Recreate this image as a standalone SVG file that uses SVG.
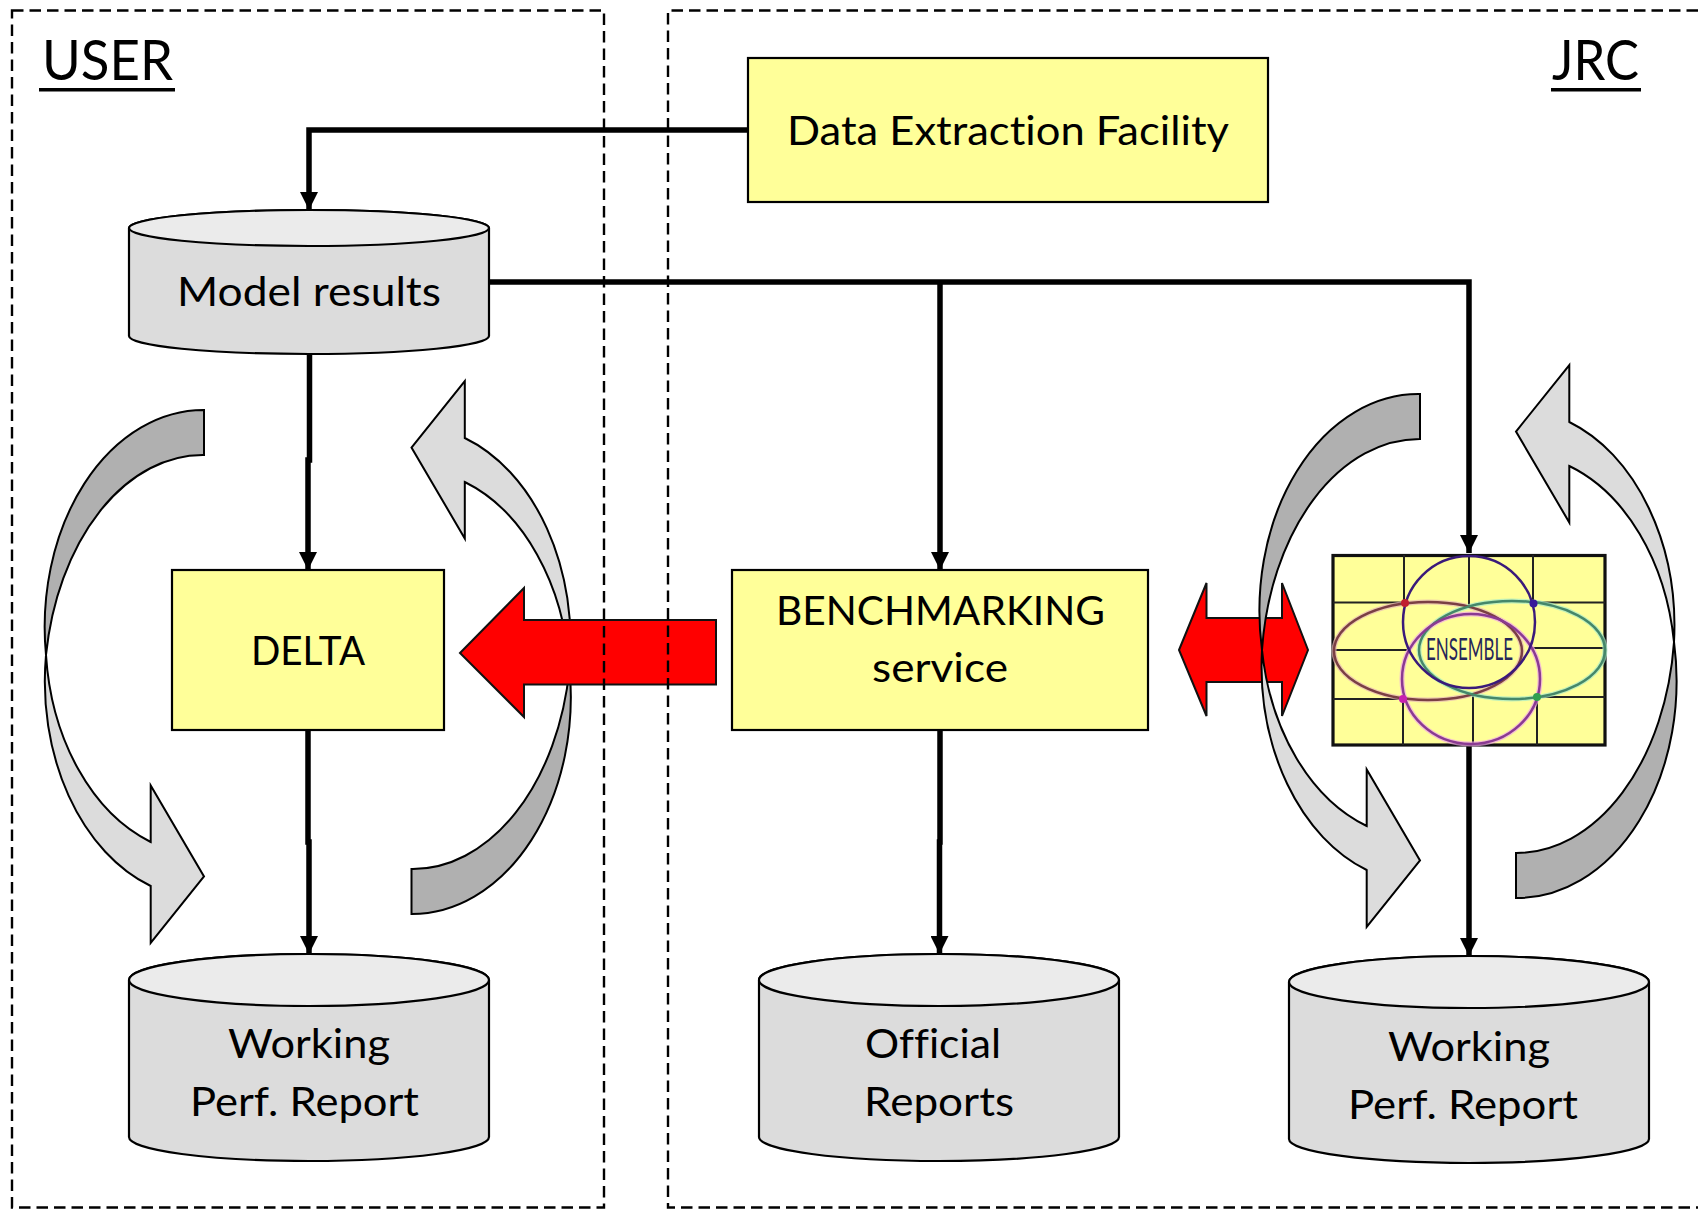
<svg xmlns="http://www.w3.org/2000/svg" xmlns:xlink="http://www.w3.org/1999/xlink" width="1698" height="1210" viewBox="0 0 1698 1210">
<style>
text{font-family:Lato,"Liberation Sans",sans-serif;font-size:40px;fill:#000;font-variant-ligatures:none}
.box{fill:#ffff99;stroke:#000;stroke-width:2.2}
.cyl{fill:#dcdcdc;stroke:#000;stroke-width:2.2}
.cap{fill:#ebebeb;stroke:#000;stroke-width:2.2}
.dash{fill:none;stroke:#000;stroke-width:2.4;stroke-dasharray:11.5 6}
.red{fill:#ff0000;stroke:#111;stroke-width:2}
.dark{fill:#b0b0b0;stroke:#000;stroke-width:2}
.light{fill:#dcdcdc;stroke:#000;stroke-width:2}
.conn{fill:none;stroke:#000;stroke-width:5.5}
.grid{stroke:#222;stroke-width:2}
</style>
<defs>
<marker id="ah" markerUnits="userSpaceOnUse" markerWidth="18" markerHeight="18" refX="18" refY="9" orient="auto"><path d="M0 0L18 9L0 18Z" fill="#000"/></marker>
<g id="curve">
<path class="dark" d="M1420 394V439A158.500 235 0 0 0 1262 650A159 217 0 0 1 1420 394Z"/>
<path class="light" d="M1262 650A159 219 0 0 0 1366.700 826V769.500L1420 860.500L1366.700 927V870A159 217 0 0 1 1262 650Z"/>
</g>
<g id="curve-user">
<path class="dark" d="M1420 394V439A158.500 235 0 0 0 1262 639A159 217 0 0 1 1420 394Z"/>
<path class="light" d="M1262 639A159 219 0 0 0 1366.700 826V769.500L1420 860.500L1366.700 927V870A159 217 0 0 1 1262 639Z"/>
</g>
</defs>
<g id="loop-user-left"><use xlink:href="#curve-user" href="#curve-user" transform="translate(-1216 16)"/></g>
<g id="loop-user-right"><use xlink:href="#curve-user" href="#curve-user" transform="translate(-1104.500 16) rotate(180 1468 646)"/></g>
<g id="arrow-benchmark-delta"><path class="red" d="M460 653L524 588V620H716V684.500H524V717Z"/></g>
<g id="arrow-benchmark-ensemble"><path class="red" d="M1179 650L1206.500 583V618H1282V583L1308 650L1282 716V682H1206.500V716Z"/></g>
<g id="loop-jrc-left"><use xlink:href="#curve" href="#curve"/></g>
<g id="loop-jrc-right"><use xlink:href="#curve" href="#curve" transform="rotate(180 1468 646)"/></g>
<g id="user-area"><rect class="dash" x="12" y="10.500" width="592" height="1197"/><text x="42" y="80" style="font-size:56px" textLength="131" lengthAdjust="spacingAndGlyphs">USER</text><rect x="39" y="88" width="136" height="3.500"/></g>
<g id="jrc-area"><path class="dash" d="M1698 10.500H668V1207.500H1698"/><text x="1552" y="80" style="font-size:56px" textLength="87" lengthAdjust="spacingAndGlyphs">JRC</text><rect x="1551" y="88" width="90" height="3.500"/></g>
<g id="connectors">
<path class="conn" d="M748 130H309V210" marker-end="url(#ah)"/>
<path class="conn" d="M489 282H1469V553" marker-end="url(#ah)"/>
<path class="conn" d="M940 282V570" marker-end="url(#ah)"/>
<path class="conn" d="M309.500 354V460H308V570" marker-end="url(#ah)"/>
<path class="conn" d="M308 730V842H309V954" marker-end="url(#ah)"/>
<path class="conn" d="M940 730V842H939.500V954" marker-end="url(#ah)"/>
<path class="conn" d="M1469 745V956" marker-end="url(#ah)"/>
</g>
<g id="data-extraction"><rect class="box" x="748" y="58" width="520" height="144"/><text x="787" y="145" textLength="442" lengthAdjust="spacingAndGlyphs">Data Extraction Facility</text></g>
<g id="model-results"><path class="cyl" d="M129 228A180 18 0 0 1 489 228V336A180 18 0 0 1 129 336Z"/><ellipse class="cap" cx="309" cy="228" rx="180" ry="18"/><text x="177" y="306" textLength="264" lengthAdjust="spacingAndGlyphs">Model results</text></g>
<g id="delta"><rect class="box" x="172" y="570" width="272" height="160"/><text x="251" y="665" textLength="114" lengthAdjust="spacingAndGlyphs">DELTA</text></g>
<g id="benchmarking"><rect class="box" x="732" y="570" width="416" height="160"/><text x="776" y="625" textLength="329" lengthAdjust="spacingAndGlyphs">BENCHMARKING</text><text x="872" y="682" textLength="136" lengthAdjust="spacingAndGlyphs">service</text></g>
<g id="working-user"><path class="cyl" d="M129 980A180 26 0 0 1 489 980V1137A180 24 0 0 1 129 1137Z"/><ellipse class="cap" cx="309" cy="980" rx="180" ry="26"/><text x="228" y="1057.500" textLength="162" lengthAdjust="spacingAndGlyphs">Working</text><text x="190" y="1115.500" textLength="229" lengthAdjust="spacingAndGlyphs">Perf. Report</text></g>
<g id="official"><path class="cyl" d="M759 980A180 26 0 0 1 1119 980V1137A180 24 0 0 1 759 1137Z"/><ellipse class="cap" cx="939" cy="980" rx="180" ry="26"/><text x="865" y="1057.500" textLength="136" lengthAdjust="spacingAndGlyphs">Official</text><text x="864" y="1115.500" textLength="150" lengthAdjust="spacingAndGlyphs">Reports</text></g>
<g id="working-jrc"><path class="cyl" d="M1289 982A180 26 0 0 1 1649 982V1139A180 24 0 0 1 1289 1139Z"/><ellipse class="cap" cx="1469" cy="982" rx="180" ry="26"/><text x="1388" y="1060.500" textLength="162" lengthAdjust="spacingAndGlyphs">Working</text><text x="1348" y="1118.500" textLength="230" lengthAdjust="spacingAndGlyphs">Perf. Report</text></g>
<g id="ensemble">
<rect x="1333" y="555.500" width="272" height="189.500" fill="#ffff99" stroke="#111" stroke-width="3.200"/>
<g class="grid">
<line x1="1404" y1="555" x2="1404" y2="603"/><line x1="1469" y1="555" x2="1469" y2="607"/><line x1="1533" y1="555" x2="1533" y2="603"/>
<line x1="1333" y1="602.500" x2="1404" y2="602.500"/><line x1="1533" y1="602.500" x2="1605" y2="602.500"/>
<line x1="1333" y1="650" x2="1407" y2="650"/><line x1="1532" y1="648" x2="1605" y2="648"/>
<line x1="1333" y1="699" x2="1403" y2="699"/><line x1="1537" y1="697" x2="1605" y2="697"/>
<line x1="1403" y1="699" x2="1403" y2="745"/><line x1="1473" y1="695" x2="1473" y2="745"/><line x1="1537" y1="697" x2="1537" y2="745"/>
</g>
<g fill="none" stroke-width="5" opacity="0.7">
<ellipse cx="1428" cy="651" rx="94" ry="49" stroke="#e8b8b8"/>
<ellipse cx="1512" cy="650" rx="93" ry="49" stroke="#a8ecc8"/>
<ellipse cx="1471" cy="679" rx="69" ry="65" stroke="#f0a8e8"/>
</g>
<g fill="none" stroke-width="2.500">
<ellipse cx="1428" cy="651" rx="94" ry="49" stroke="#7a3f44"/>
<ellipse cx="1512" cy="650" rx="93" ry="49" stroke="#45876a"/>
<ellipse cx="1471" cy="679" rx="69" ry="65" stroke="#8a3a92"/>
<ellipse cx="1469" cy="622" rx="66" ry="66" stroke="#3a1a7a"/>
</g>
<circle cx="1405" cy="603" r="4" fill="#c0202f"/><circle cx="1533.500" cy="603.500" r="4" fill="#3a1a9a"/><circle cx="1403" cy="699" r="4" fill="#c820b0"/><circle cx="1537" cy="697" r="4" fill="#30a050"/>
<text x="1426" y="660" style="font-size:30px;fill:#26265a" textLength="87" lengthAdjust="spacingAndGlyphs">ENSEMBLE</text>
</g>
</svg>
